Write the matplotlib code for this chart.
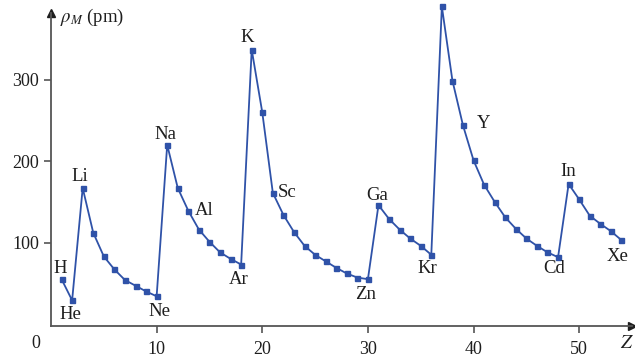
import matplotlib.pyplot as plt
import numpy as np

# atomic number Z and radius (pm)
z = list(range(1, 55))
radius = [55, 29, 167, 112, 83, 67, 54, 47, 40, 34,
          220, 167, 139, 116, 101, 88, 80, 73,
          337, 260, 161, 134, 113, 96, 85, 77, 69, 62, 57, 55,
          146, 129, 116, 105, 96, 85,
          390, 299, 244, 201, 171, 150, 131, 117, 105, 96, 88, 82,
          172, 153, 133, 123, 114, 103]

# element labels: symbol, Z, offset in points
labels = [("H", 1, (-1, 7.5)), ("He", 2, (-1.5, -10.5)), ("Li", 3, (-2, 8.5)),
          ("Ne", 10, (2, -11)), ("Na", 11, (-1, 7.5)), ("Al", 13, (11.5, 0)),
          ("Ar", 18, (-2, -11)), ("K", 19, (-3, 9)), ("Sc", 21, (10, 0.5)),
          ("Zn", 30, (-2, -11)), ("Ga", 31, (-1, 7)), ("Kr", 36, (-2.5, -10)),
          ("Rb", 37, (11.5, -6)), ("Y", 39, (15, 1)), ("Cd", 48, (-2.5, -8)),
          ("In", 49, (-0.5, 9)), ("Xe", 54, (-3, -12))]

xticks = [10, 20, 30, 40, 50]
yticks = [100, 200, 300]

plt.rcParams['font.family'] = 'Liberation Serif'
plt.rcParams['mathtext.fontset'] = 'stix'

blue = '#2f52a8'
axcol = '#555555'
txt = '#1e1e1e'

fig = plt.figure(figsize=(6.35, 3.58), dpi=100)
ax = fig.add_axes([51 / 635, 1 - 326 / 358, 581 / 635, 313 / 358])

ax.plot(z, radius, color=blue, lw=1.3, marker='s', markersize=3.6, clip_on=False)

for sym, zz, off in labels:
    ax.annotate(sym, (zz, radius[zz - 1]), xytext=off, textcoords='offset points',
                ha='center', va='center', fontsize=13.5, color=txt)

ax.set_xlim(0, 55)
ax.set_ylim(-2.5, 382)
ax.set_xticks(xticks)
ax.set_yticks(yticks)
ax.tick_params(axis='both', colors=axcol, labelcolor=txt, labelsize=13,
               width=1.2, length=5)
ax.tick_params(axis='x', pad=5.5)

for side in ['top', 'right']:
    ax.spines[side].set_visible(False)
for side in ['left', 'bottom']:
    ax.spines[side].set_color(axcol)
    ax.spines[side].set_linewidth(1.3)

# arrow heads on the axes
ax.plot(1, 0, marker='>', color=txt, markersize=6, transform=ax.transAxes, clip_on=False)
ax.plot(0, 1, marker='^', color=txt, markersize=6, transform=ax.transAxes, clip_on=False)

fig.text(36 / 635, 1 - 344 / 358, '0', ha='center', va='center', fontsize=13, color=txt)
fig.text(627 / 635, 1 - 343 / 358, '$Z$', ha='center', va='center', fontsize=14, color=txt)
fig.text(60 / 635, 1 - 17 / 358, r'$\rho_M$ (pm)', ha='left', va='center', fontsize=13.5,
         color=txt)

fig.savefig('out.png', dpi=100)
